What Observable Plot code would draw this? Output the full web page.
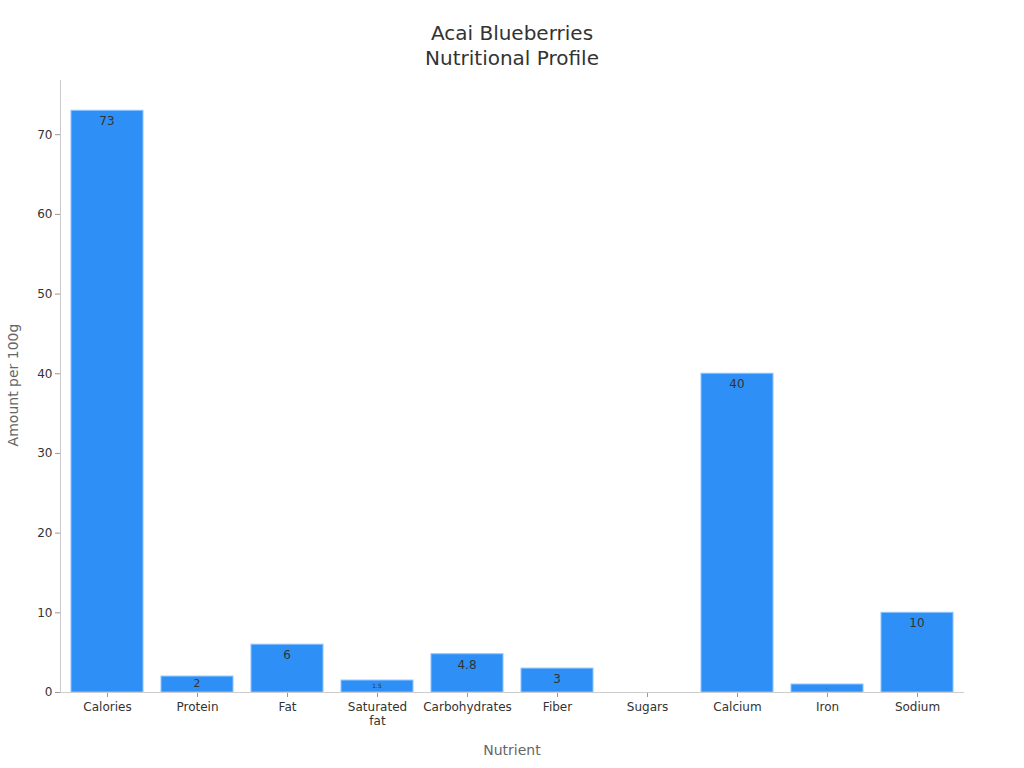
<!DOCTYPE html>
<html><head><meta charset="utf-8">
<script src="https://cdn.jsdelivr.net/npm/d3@7"></script>
<script src="https://cdn.jsdelivr.net/npm/@observablehq/plot@0.6"></script>
<style>
body{margin:0;background:#fff;font-family:"DejaVu Sans",sans-serif;}
#wrap{position:relative;width:1024px;height:768px;}
#title{position:absolute;left:0;top:21px;width:1024px;text-align:center;font-size:20px;line-height:25px;color:#333;}
#xlab{position:absolute;left:0;top:742px;width:1024px;text-align:center;font-size:14px;color:#666;}
#ylab{position:absolute;left:13px;top:385px;transform:translate(-50%,-50%) rotate(-90deg);white-space:nowrap;font-size:14px;color:#666;}
</style></head>
<body><div id="wrap"><div id="chart"></div>
<div id="title">Acai Blueberries<br>Nutritional Profile</div>
<div id="ylab">Amount per 100g</div>
<div id="xlab">Nutrient</div></div>
<script>
const nutrients = ["Calories","Protein","Fat","Saturated fat","Carbohydrates","Fiber","Sugars","Calcium","Iron","Sodium"];
const amounts = [73, 2, 6, 1.5, 4.8, 3, 0, 40, 1, 10];
const yTicks = [0,10,20,30,40,50,60,70];

const data = nutrients.map((n,i)=>({nutrient:n, value:amounts[i]}));
const xFmt = d => d === "Saturated fat" ? "Saturated\nfat" : d;

const plot = Plot.plot({
  width:1024, height:768,
  marginTop:80, marginBottom:76, marginLeft:60, marginRight:60,
  style:{fontFamily:"DejaVu Sans, sans-serif", fontSize:"12px", color:"#333", background:"#fff"},
  x:{domain:nutrients, paddingInner:0.2, paddingOuter:0.1, label:null},
  y:{domain:[0, 76.8], label:null},
  marks:[
    Plot.axisY({ticks:yTicks, tickSize:5, label:null, stroke:"#999", fill:"#333", tickPadding:3}),
    Plot.axisX({tickSize:5, label:null, stroke:"#999", fill:"#333", tickPadding:4, tickFormat:xFmt, lineHeight:1.15}),
    Plot.barY(data, {x:"nutrient", y:"value", fill:"#2e90f7", stroke:"#8cc4ff", strokeWidth:1}),
    Plot.ruleY([0], {stroke:"#ccc"}),
    Plot.text(data.filter(d => d.value > 0), {x:"nutrient", y:"value", text:d=>String(d.value), fill:"#333", fontSize:12})
  ]
});
const svg = d3.select(plot);
// left axis line
svg.append("line").attr("x1",60.5).attr("x2",60.5).attr("y1",80).attr("y2",692).attr("stroke","#ccc");
// position value labels inside bars, shrink them for short bars, clip to bar interior
const rects = svg.selectAll("g[aria-label='bar'] rect").nodes().map(r => ({
  x:+r.getAttribute("x"), y:+r.getAttribute("y"), w:+r.getAttribute("width"), h:+r.getAttribute("height")
}));
const textGroup = svg.select("g[aria-label='text']").node();
const texts = Array.from(textGroup.querySelectorAll("text"));
const defs = svg.append("defs");
texts.forEach((t,i)=>{
  const m = /translate\(([-\d.]+)[ ,]+([-\d.]+)\)/.exec(t.getAttribute("transform") || "");
  const gm = /translate\(([-\d.]+)[ ,]+([-\d.]+)\)/.exec(textGroup.getAttribute("transform") || "");
  const gx = gm ? +gm[1] : 0, gy = gm ? +gm[2] : 0;
  const tx = (m ? +m[1] : 0) + gx;
  let best = null, bd = Infinity;
  rects.forEach(r => { const d = Math.abs(r.x + r.w/2 - tx); if (d < bd) { bd = d; best = r; } });
  const r = best;
  const cx = r.x + r.w/2;
  let cy, s;
  if (r.h >= 22) { cy = r.y + 11; s = 1; }
  else { cy = r.y + r.h/2; s = Math.max(0.15, Math.min(1, (r.h - 7) / 10)); }
  t.setAttribute("transform", `translate(${cx - gx},${cy - gy}) scale(${s})`);
  const id = "clipbar"+i;
  defs.append("clipPath").attr("id",id).append("rect")
    .attr("x",r.x+1).attr("y",r.y+1).attr("width",Math.max(0,r.w-2)).attr("height",Math.max(0,r.h-2));
  const w = svg.append("g").attr("clip-path",`url(#${id})`).node();
  const inner = textGroup.cloneNode(false);
  inner.removeAttribute("aria-label");
  w.appendChild(inner);
  inner.appendChild(t);
});
document.getElementById("chart").appendChild(plot);
</script></body></html>
